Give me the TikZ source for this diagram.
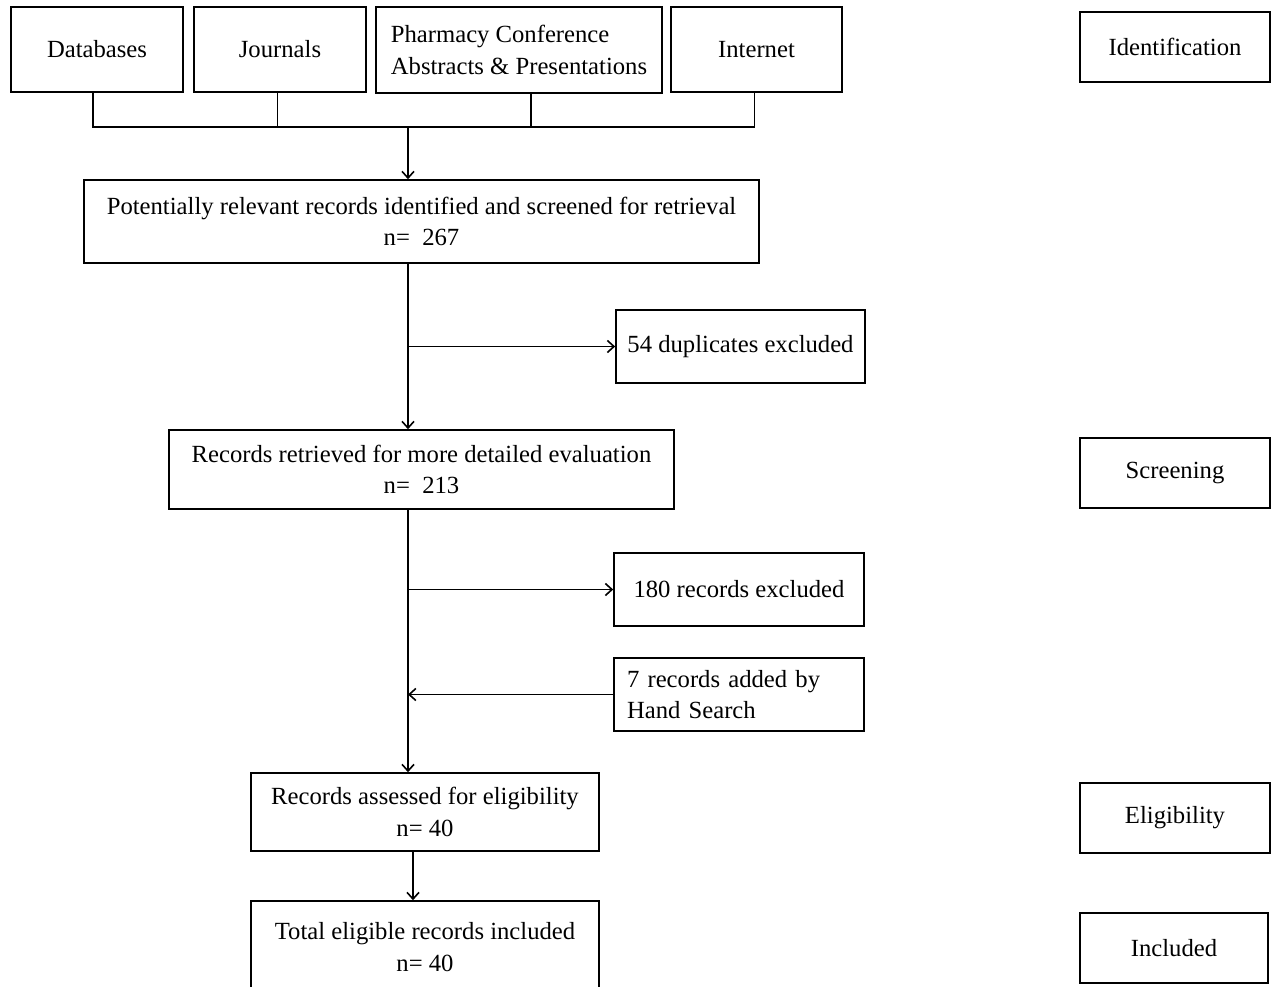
\documentclass[tikz,border=0pt]{standalone}
\usepackage{fontspec}
\setmainfont{Liberation Serif}
\usetikzlibrary{arrows.meta}
\begin{document}
\begin{tikzpicture}[x=0.75pt,y=-0.75pt,
  box/.style={draw, line width=1.2pt, inner sep=0pt, font=\fontsize{18.5}{23.5}\selectfont, align=center},
  conn/.style={line width=1.2pt},
  arr/.style={conn, -{Straight Barb[length=5pt,width=9pt,line width=1.2pt]}}]
\clip (0,0) rectangle (1277,986);
% sources
\node[box, minimum width=129pt, minimum height=63.75pt] (db) at (97,49.5) {Databases};
\node[box, minimum width=129pt, minimum height=63.75pt] (jr) at (280,49.5) {Journals};
\node[box, minimum width=214.5pt, minimum height=64.5pt, align=left] (ph) at (519,50) {Pharmacy Conference\\Abstracts \& Presentations};
\node[box, minimum width=128.25pt, minimum height=63.75pt] (inet) at (756.5,49.5) {Internet};
% main flow
\node[box, minimum width=506.25pt, minimum height=62.25pt] (b1) at (421.5,221.5) {Potentially relevant records identified and screened for retrieval\\n=~~267};
\node[box, minimum width=186.75pt, minimum height=54.75pt] (dup) at (740.5,346.5) {54 duplicates excluded};
\node[box, minimum width=378.75pt, minimum height=59.25pt] (b2) at (421.5,469.5) {Records retrieved for more detailed evaluation\\n=~~213};
\node[box, minimum width=187.5pt, minimum height=54.75pt] (exc) at (739,589.5) {180 records excluded};
\node[box, minimum width=187.5pt, minimum height=54.75pt, text width=168pt, align=left] (hs) at (739,694.5) {7 records added by\\Hand Search};
\node[box, minimum width=261pt, minimum height=58.5pt] (b3) at (425,812) {Records assessed for eligibility\\n=~40};
\node[box, minimum width=261pt, minimum height=69pt] (b4) at (425,947) {Total eligible records included\\n=~40};
% stage labels
\node[box, minimum width=142.5pt, minimum height=52.5pt] (id) at (1175,47) {Identification};
\node[box, minimum width=142.5pt, minimum height=52.5pt] (sc) at (1175,473) {Screening};
\node[box, minimum width=142.5pt, minimum height=52.5pt] (el) at (1175,818) {Eligibility};
\node[box, minimum width=141pt, minimum height=52.5pt] (inc) at (1174,948) {Included};
% connectors
\coordinate (j) at (408,127);
\draw[conn] ([xshift=-3pt]db.south) |- ([xshift=-1.5pt]inet.south |- j) -- ([xshift=-1.5pt]inet.south);
\draw[conn] ([xshift=-2pt]jr.south) -- ([xshift=-2pt]jr.south |- j);
\draw[conn] ([xshift=9pt]ph.south) -- ([xshift=9pt]ph.south |- j);
\draw[arr] (j) -- (j |- b1.north);
\draw[arr] (b1.south -| j) -- (b2.north -| j);
\draw[arr] (j |- dup.west) -- (dup.west);
\draw[arr] (b2.south -| j) -- (b3.north -| j);
\draw[arr] (j |- exc.west) -- (exc.west);
\draw[arr] (hs.west) -- (hs.west -| j);
\draw[arr] ([xshift=-9pt]b3.south) -- ([xshift=-9pt]b3.south |- b4.north);
\end{tikzpicture}
\end{document}
